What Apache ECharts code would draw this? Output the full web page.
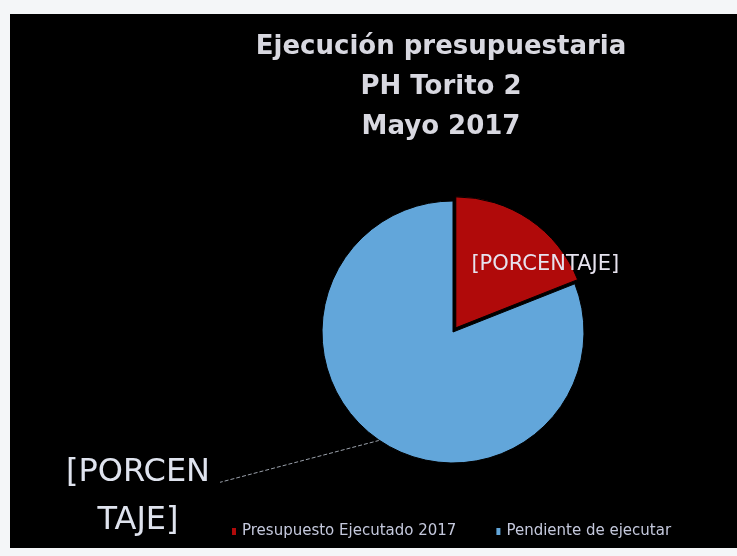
<!DOCTYPE html>
<html>
<head>
<meta charset="utf-8">
<script src="https://cdn.jsdelivr.net/npm/echarts@6/dist/echarts.min.js"></script>
<style>
html,body{margin:0;padding:0;background:#f4f6f8;width:737px;height:556px;overflow:hidden;}
#chart{position:absolute;left:10px;top:14px;width:727px;height:534px;}
</style>
</head>
<body>
<div id="chart"></div>
<script>
var titleLines = ['Ejecución presupuestaria', 'PH Torito 2', 'Mayo 2017'];
var categories = ['Presupuesto Ejecutado 2017', 'Pendiente de ejecutar'];
var values = [19, 81];
var labels = ['[PORCENTAJE]', '[PORCEN\nTAJE]'];
var colors = ['#b00a0a', '#62a6da'];

var chart = echarts.init(document.getElementById('chart'));
var data = categories.map(function (c, i) {
  var d = { name: c, value: values[i], itemStyle: { color: colors[i] } };
  if (i === 0) {
    d.selected = true;
    d.label = {
      position: 'inside',
      formatter: labels[0],
      fontSize: 21,
      color: '#e6e2ee',
      fontFamily: 'DejaVu Sans'
    };
    d.labelLine = { show: false };
  } else {
    d.label = {
      position: 'outside',
      formatter: function () {
        return labels[1].split('\n').map(function (s) { return '{a|' + s + '}'; }).join('\n');
      },
      rich: {
        a: { fontSize: 32, color: '#dfe3ee', fontFamily: 'DejaVu Sans', width: 164, align: 'center', lineHeight: 48 }
      },
      distanceToLabelLine: 0
    };
  }
  return d;
});

var moves = [[51, -7], [-6, 51]];

chart.setOption({
  backgroundColor: '#000000',
  animation: false,
  title: {
    text: titleLines.join('\n'),
    left: 426,
    top: 8,
    textAlign: 'center',
    textStyle: { color: '#d8d8e0', fontSize: 26, fontWeight: 'bold', fontFamily: 'DejaVu Sans', lineHeight: 40 }
  },
  legend: {
    bottom: 4,
    left: 215,
    itemWidth: 6,
    itemHeight: 9,
    itemGap: 38,
    icon: 'rect',
    textStyle: { color: '#c4c8dc', fontSize: 15, fontFamily: 'DejaVu Sans' },
    data: categories
  },
  series: [{
    type: 'pie',
    center: [443, 318],
    radius: 131,
    startAngle: 90,
    clockwise: true,
    selectedMode: 'single',
    selectedOffset: 5,
    itemStyle: { borderColor: '#000', borderWidth: 1 },
    labelLine: { show: true, length: 6, length2: 150, lineStyle: { color: '#9aa0aa', width: 1, type: 'dashed' } },
    labelLayout: function (p) {
      var m = moves[p.dataIndex];
      var out = { dx: m[0], dy: m[1] };
      if (p.dataIndex === 1 && p.labelLinePoints) {
        var r = p.labelRect;
        var p0 = p.labelLinePoints[0];
        var end = [r.x + m[0] + r.width, r.y + m[1] + 26];
        out.labelLinePoints = [p0, [(p0[0] + end[0]) / 2, (p0[1] + end[1]) / 2], end];
      }
      return out;
    },
    emphasis: { disabled: true },
    data: data
  }]
});
</script>
</body>
</html>
